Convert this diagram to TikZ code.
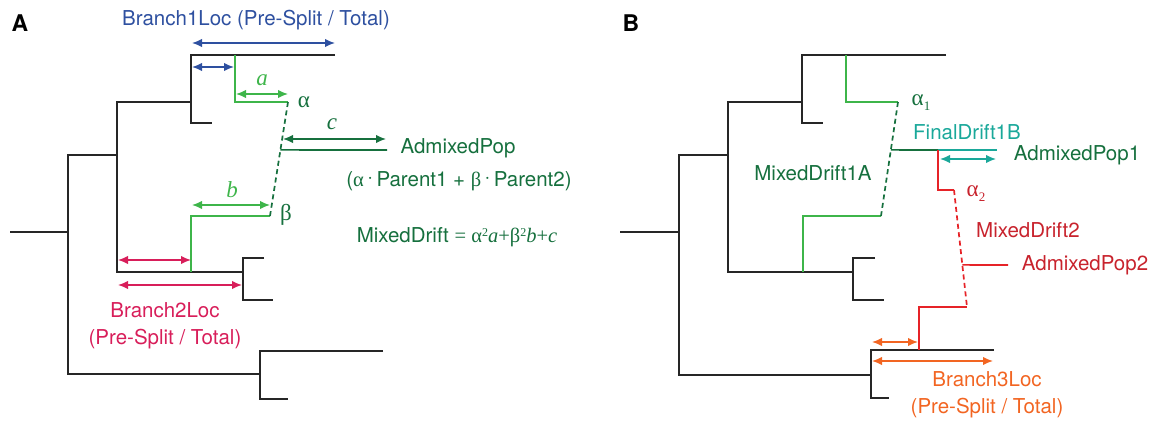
\documentclass[tikz,border=0pt]{standalone}
\usepackage{fontspec}
\setmainfont{TeX Gyre Heros}
\newfontfamily\serif{Liberation Serif}
\usetikzlibrary{calc,arrows.meta,positioning}

\definecolor{blueC}{RGB}{46,80,160}
\definecolor{greenL}{RGB}{62,181,74}
\definecolor{greenD}{RGB}{22,112,62}
\definecolor{pinkC}{RGB}{216,30,90}
\definecolor{tealC}{RGB}{26,168,154}
\definecolor{redC}{RGB}{230,35,40}
\definecolor{redT}{RGB}{200,35,45}
\definecolor{orangeC}{RGB}{242,101,34}

\tikzset{
  tree/.style={line width=1.7pt,black!85},
  meas/.style={<->,>={Latex[length=10pt,width=8.5pt]},line width=1.5pt},
  mixline/.style={line width=1.7pt,dash pattern=on 5pt off 3.5pt},
  lbl/.style={inner sep=0pt,font=\fontsize{20.5}{27}\selectfont},
  glbl/.style={inner sep=0pt,font=\fontsize{23}{25}\serif},
  panel/.style={inner sep=0pt,font=\fontsize{23}{25}\selectfont\bfseries}
}

\begin{document}
\begin{tikzpicture}[x=1pt,y=-1pt]
\useasboundingbox (0,0) rectangle (1156,422);

% panel A: tree
\draw[tree] (10,232) -- (68,232);
\draw[tree] (117,155) -- (68,155) -- (68,374) -- (260,374);
\draw[tree] (191,102) -- (117,102) -- (117,272) -- (243,272);
\draw[tree] (335,55) -- (191,55) -- (191,123) -- (212,123);
\draw[tree] (264,258) -- (243,258) -- (243,300) -- (273,300);
\draw[tree] (383,351) -- (260,351) -- (260,399) -- (288,399);

% panel A: admixture
\coordinate (alphaA) at (288,102);
\coordinate (betaA) at (270,216);
\coordinate (admixA) at ($(alphaA)!0.42!(betaA)$);
\draw[greenL,line width=1.7pt] (235,55) -- (235,102) -- (alphaA);
\draw[greenL,line width=1.7pt] (191,272) -- (191,216) -- (betaA);
\draw[greenD,mixline] (alphaA) -- (betaA);
\draw[greenD,line width=1.7pt] (admixA) -- (387,150);

\draw[meas,blueC] (192,43) -- (335,43);
\draw[meas,blueC] (192,67) -- (234,67);
\draw[meas,greenL] (236,94) -- (288,94);
\draw[meas,greenL] (192,205) -- (270,205);
\draw[meas,greenD] (283,139) -- (386,139);
\draw[meas,pinkC] (118,260) -- (191,260);
\draw[meas,pinkC] (118,285) -- (242,285);

\node[panel] (panA) at (20,23) {A};
\node[lbl,blueC] (loc1) at (256,20) {Branch1Loc (Pre-Split / Total)};
\node[glbl,greenL] (la) at (262,80) {\itshape a};
\node[glbl,greenL] (lb) at (232,190) {\itshape b};
\node[glbl,greenD] (lc) at (332,124) {\itshape c};
\node[glbl,greenD] (alA) at (304,102) {α};
\node[glbl,greenD] (beA) at (286,215) {β};
\node[lbl,greenD] (popA) at (458,148) {AdmixedPop};
\node[lbl,greenD] (mixA) at (459,181) {({\serif α}\,\raisebox{3pt}{·}\,Parent1 + {\serif β}\,\raisebox{3pt}{·}\,Parent2)};
\node[lbl,greenD] (driftA) at (457,237)
  {MixedDrift {\serif = α\raisebox{6pt}{\fontsize{12}{12}\selectfont 2}\textit{a}+β\raisebox{6pt}{\fontsize{12}{12}\selectfont 2}\textit{b}+\textit{c}}};
\node[lbl,pinkC,align=center] (loc2) at (165,326) {Branch2Loc\\(Pre-Split / Total)};

% panel B: tree
\draw[tree] (620,232) -- (679,232);
\draw[tree] (728,155) -- (679,155) -- (679,375) -- (871,375);
\draw[tree] (802,102) -- (728,102) -- (728,272) -- (853,272);
\draw[tree] (946,55) -- (802,55) -- (802,123) -- (823,123);
\draw[tree] (875,258) -- (853,258) -- (853,300) -- (884,300);
\draw[tree] (994,350) -- (871,350) -- (871,398) -- (889,398);

% panel B: two admixtures
\coordinate (alphaB1) at (898,102);
\coordinate (betaB1) at (881,216);
\coordinate (admixB1) at ($(alphaB1)!0.42!(betaB1)$);
\coordinate (splitB) at (938,150);
\coordinate (alphaB2) at (954,190);
\coordinate (betaB2) at (967,307);
\coordinate (admixB2) at ($(alphaB2)!0.64!(betaB2)$);
\draw[greenL,line width=1.7pt] (846,55) -- (846,102) -- (alphaB1);
\draw[greenL,line width=1.7pt] (803,272) -- (803,216) -- (betaB1);
\draw[greenD,mixline] (alphaB1) -- (betaB1);
\draw[greenD,line width=1.7pt] (admixB1) -- (splitB);
\draw[tealC,line width=1.7pt] (splitB) -- (997,150);
\draw[redC,line width=1.7pt] (splitB) -- (938,190) -- (alphaB2);
\draw[redC,line width=1.7pt] (919,350) -- (919,307) -- (betaB2);
\draw[redC,mixline] (alphaB2) -- (betaB2);
\draw[redC,line width=1.7pt] (admixB2) -- (1008,265);

\draw[meas,tealC] (940,159) -- (996,159);
\draw[meas,orangeC] (872,342) -- (918,342);
\draw[meas,orangeC] (872,361) -- (993,361);

\node[panel] (panB) at (631,23) {B};
\node[glbl,greenD] (alB1) at (921,103) {α\raisebox{-5pt}{\fontsize{13}{13}\selectfont 1}};
\node[lbl,greenD] (driftB1) at (813,173) {MixedDrift1A};
\node[lbl,tealC] (finB) at (967,132) {FinalDrift1B};
\node[lbl,greenD] (popB1) at (1077,155) {AdmixedPop1};
\node[glbl,redT] (alB2) at (976,194) {α\raisebox{-5pt}{\fontsize{13}{13}\selectfont 2}};
\node[lbl,redT] (driftB2) at (1028,230) {MixedDrift2};
\node[lbl,redT] (popB2) at (1085,265) {AdmixedPop2};
\node[lbl,orangeC,align=center] (loc3) at (987,395) {Branch3Loc\\(Pre-Split / Total)};
\end{tikzpicture}
\end{document}
